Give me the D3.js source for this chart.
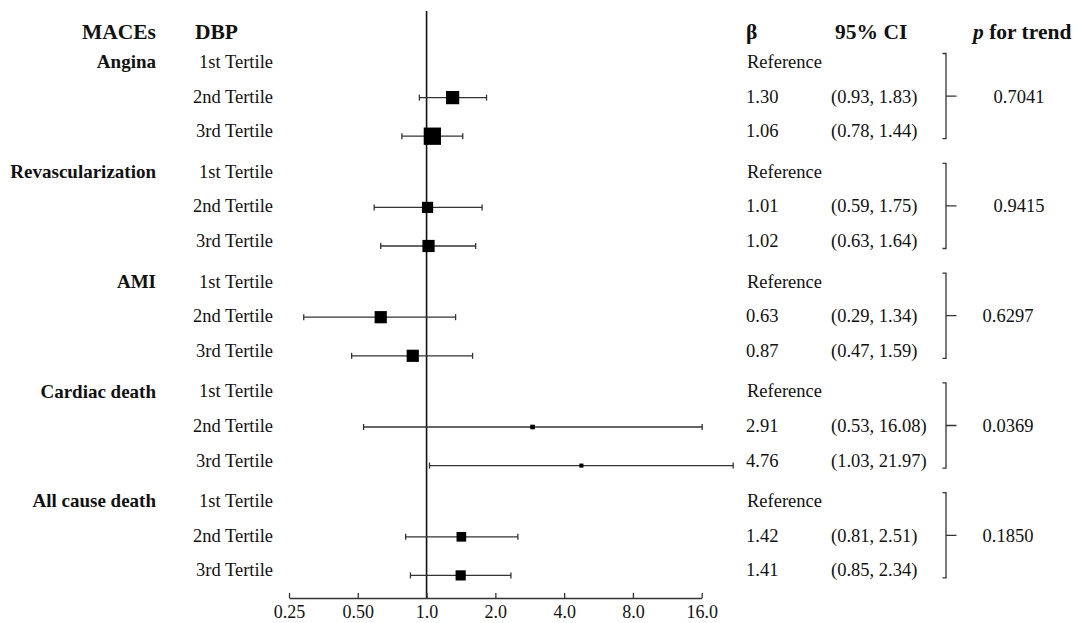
<!DOCTYPE html>
<html>
<head>
<meta charset="utf-8">
<script src="https://cdn.jsdelivr.net/npm/d3@7"></script>
<style>
  body { margin: 0; background: #fff; }
  svg text { font-family: "Liberation Serif", "Times New Roman", serif; fill: #111; }
  .head { font-weight: bold; font-size: 21.5px; }
  .cat { font-weight: bold; font-size: 19px; }
  .cell { font-size: 18.5px; }
  .tick text { font-size: 18px; }
</style>
</head>
<body>
<div id="chart"></div>
<script>
// data
var outcomes = ["Angina", "Revascularization", "AMI", "Cardiac death", "All cause death"];
var tertiles = ["1st Tertile", "2nd Tertile", "3rd Tertile"];
var betaVals = [
  [null, 1.30, 1.06],
  [null, 1.01, 1.02],
  [null, 0.63, 0.87],
  [null, 2.91, 4.76],
  [null, 1.42, 1.41]
];
var ciLow = [
  [null, 0.93, 0.78],
  [null, 0.59, 0.63],
  [null, 0.29, 0.47],
  [null, 0.53, 1.03],
  [null, 0.81, 0.85]
];
var ciHigh = [
  [null, 1.83, 1.44],
  [null, 1.75, 1.64],
  [null, 1.34, 1.59],
  [null, 16.08, 21.97],
  [null, 2.51, 2.34]
];
var weights = [
  [null, 13, 17],
  [null, 11, 12],
  [null, 12, 12],
  [null, 4.5, 4],
  [null, 9.5, 10]
];
var pTrend = ["0.7041", "0.9415", "0.6297", "0.0369", "0.1850"];
var tickVals = [0.25, 0.5, 1, 2, 4, 8, 16];
var tickLabels = ["0.25", "0.50", "1.0", "2.0", "4.0", "8.0", "16.0"];

var width = 1073, height = 623;

var svg = d3.select("#chart").append("svg")
  .attr("width", width)
  .attr("height", height);

var x = d3.scaleLog().base(2)
  .domain([0.25, 16])
  .range([289, 701.7]);

var yGroup = d3.scaleLinear()
  .domain([0, outcomes.length - 1])
  .range([61.5, 500.7]);

var rowStep = 34.6;
var markOffset = [0, 1.5, 5.5];
var axisY = 598;

function rowY(g, k) { return yGroup(g) + k * rowStep; }

var size = d3.scaleLinear().domain([0, 17]).range([0, 17.3]);

// headers
svg.append("text").attr("class", "head").attr("x", 156).attr("y", 31).attr("dy", "0.35em")
  .style("text-anchor", "end").text("MACEs");
svg.append("text").attr("class", "head").attr("x", 195).attr("y", 31).attr("dy", "0.35em").text("DBP");
svg.append("text").attr("class", "head").attr("x", 746).attr("y", 31).attr("dy", "0.35em").text("\u03B2");
svg.append("text").attr("class", "head").attr("x", 835).attr("y", 31).attr("dy", "0.35em").text("95% CI");
var pHead = svg.append("text").attr("class", "head").attr("x", 973).attr("y", 31).attr("dy", "0.35em");
pHead.append("tspan").style("font-style", "italic").text("p");
pHead.append("tspan").text(" for trend");

// reference line at 1
svg.append("line")
  .attr("x1", x(1)).attr("x2", x(1))
  .attr("y1", 11).attr("y2", axisY)
  .style("stroke", "#111").style("stroke-width", 1.6);

// axis
var axis = d3.axisBottom(x)
  .tickValues(tickVals)
  .tickFormat(function(d, i) { return tickLabels[i]; })
  .tickSizeInner(-5)
  .tickSizeOuter(0)
  .tickPadding(7);

var axisG = svg.append("g")
  .attr("transform", "translate(0," + axisY + ")")
  .call(axis)
  .attr("font-family", null)
  .attr("font-size", null);
axisG.select(".domain").style("stroke", "#333").style("stroke-width", 1.3);
axisG.selectAll(".tick line").style("stroke", "#333").style("stroke-width", 1.3);
axisG.selectAll(".tick text").attr("fill", "#111");

outcomes.forEach(function(name, g) {
  var grp = svg.append("g");

  grp.append("text").attr("class", "cat")
    .attr("x", 156).attr("y", rowY(g, 0)).attr("dy", "0.35em")
    .style("text-anchor", "end").text(name);

  tertiles.forEach(function(t, k) {
    var yy = rowY(g, k);
    grp.append("text").attr("class", "cell")
      .attr("x", 273).attr("y", yy).attr("dy", "0.35em")
      .style("text-anchor", "end").text(t);

    var b = betaVals[g][k];
    if (b == null) {
      grp.append("text").attr("class", "cell")
        .attr("x", 747).attr("y", yy).attr("dy", "0.35em").text("Reference");
      return;
    }
    grp.append("text").attr("class", "cell")
      .attr("x", 746).attr("y", yy).attr("dy", "0.35em").text(b.toFixed(2));
    grp.append("text").attr("class", "cell")
      .attr("x", 831).attr("y", yy).attr("dy", "0.35em")
      .text("(" + ciLow[g][k].toFixed(2) + ", " + ciHigh[g][k].toFixed(2) + ")");

    var my = yy + markOffset[k];
    var lo = x(ciLow[g][k]), hi = x(ciHigh[g][k]);
    grp.append("line").attr("x1", lo).attr("x2", hi).attr("y1", my).attr("y2", my)
      .style("stroke", "#333").style("stroke-width", 1.3);
    [lo, hi].forEach(function(cx) {
      grp.append("line").attr("x1", cx).attr("x2", cx).attr("y1", my - 3).attr("y2", my + 3)
        .style("stroke", "#333").style("stroke-width", 1.3);
    });
    var s = size(weights[g][k]);
    grp.append("rect")
      .attr("x", x(b) - s / 2).attr("y", my - s / 2)
      .attr("width", s).attr("height", s)
      .attr("fill", "#000");
  });

  // bracket
  var top = rowY(g, 0) - 8, bot = rowY(g, 2) + 8, mid = rowY(g, 1);
  grp.append("path")
    .attr("d", "M942.5," + top + "H946V" + bot + "H942.5M946," + mid + "H956.5")
    .attr("fill", "none")
    .style("stroke", "#333").style("stroke-width", 1.3);

  grp.append("text").attr("class", "cell")
    .attr("x", g < 2 ? 1019 : 1008).attr("y", mid).attr("dy", "0.35em")
    .style("text-anchor", "middle").text(pTrend[g]);
});
</script>
</body>
</html>
